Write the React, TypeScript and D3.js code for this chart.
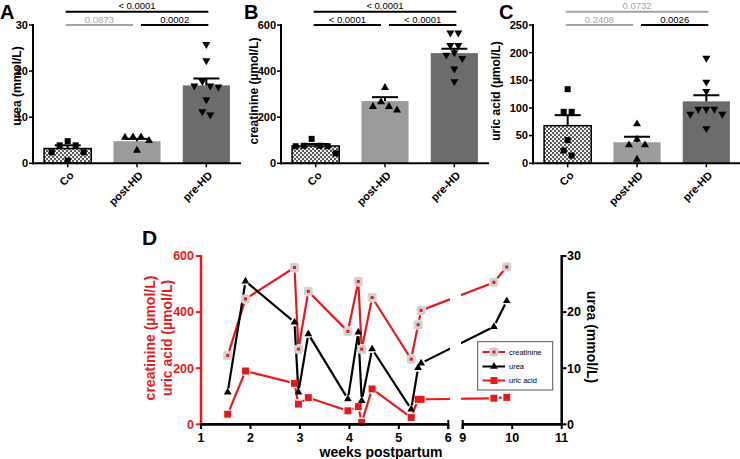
import React from 'react';
import * as d3 from 'd3';

const FONT = "'Liberation Sans', Arial, Helvetica, sans-serif";
const RED = '#e6191e';
const SIG_GRAY = '#a3a3a3';

// ---------- Panels A–C data ----------
const groups = ['Co', 'post-HD', 'pre-HD'];

const ureaMeans = [3.2, 4.8, 16.9];
const ureaSem = [0.7, 0.5, 1.5];
const ureaCo = [3.9, 4.8, 3.9, 2.4, 2.4, 0.6];
const ureaPost = [5.6, 5.7, 5.7, 4.9, 2.8];
const ureaPre = [25.8, 22.3, 17.8, 16.8, 16.8, 16.6, 13.8, 11.2, 10.5];
const ureaTicks = [0, 10, 20, 30];

const creaMeans = [75, 270, 478];
const creaSem = [9, 17, 19];
const creaCo = [76, 76, 106, 74, 74, 43];
const creaPost = [328, 231, 246, 246, 266];
const creaPre = [566, 566, 512, 512, 480, 470, 455, 410, 355];
const creaTicks = [0, 200, 400, 600];

const uricMeans = [68, 38, 112];
const uricSem = [19, 10, 11];
const uricCo = [134, 93, 93, 42, 23, 14];
const uricPost = [71, 43, 33, 33, 7];
const uricPre = [190, 147, 130, 98, 98, 98, 89, 89, 63];
const uricTicks = [0, 50, 100, 150, 200, 250];

const sigA = [
  { from: 0, to: 2, row: 0, label: '< 0.0001', gray: false },
  { from: 0, to: 1, row: 1, label: '0.0873', gray: true },
  { from: 1, to: 2, row: 1, label: '0.0002', gray: false },
];
const sigB = [
  { from: 0, to: 2, row: 0, label: '< 0.0001', gray: false },
  { from: 0, to: 1, row: 1, label: '< 0.0001', gray: false },
  { from: 1, to: 2, row: 1, label: '< 0.0001', gray: false },
];
const sigC = [
  { from: 0, to: 2, row: 0, label: '0.0732', gray: true },
  { from: 0, to: 1, row: 1, label: '0.2408', gray: true },
  { from: 1, to: 2, row: 1, label: '0.0026', gray: false },
];

// ---------- Panel D data ----------
const weeks = [1.54, 1.9, 2.89, 2.97, 3.17, 3.97, 4.18, 4.25, 4.46, 5.25, 5.39, 5.45, 9.63, 9.89];
const creatinineD = [245, 447, 559, 268, 474, 331, 509, 268, 452, 232, 355, 406, 506, 561];
const ureaD = [5.7, 25.5, 18.2, 5.7, 16.1, 4.5, 16.4, 4.2, 13.4, 2.7, 10.1, 10.9, 17.4, 22.0];
const uricD = [36, 190, 146, 72, 95, 48, 63, 7, 126, 24, 89, 89, 93, 96];
const leftTicksD = [0, 200, 400, 600];
const rightTicksD = [0, 10, 20, 30];
const xTicks1 = [1, 2, 3, 4, 5, 6];
const xTicks2 = [9, 10, 11];

const barFills = ['url(#checker)', '#9b9b9b', '#6c6c6c'];

function swarm(vals: number[], y: (v: number) => number, d: number) {
  const idx = vals.map((v, i) => i).sort((a, b) => vals[b] - vals[a]);
  const out: number[] = new Array(vals.length).fill(0);
  let cluster: number[] = [];
  const flush = () => {
    const n = cluster.length;
    const slots: number[] = [];
    if (n % 2 === 1) {
      slots.push(0);
      for (let k = 1; slots.length < n; k++) { slots.push(-k * d); if (slots.length < n) slots.push(k * d); }
    } else {
      for (let k = 0; slots.length < n; k++) { slots.push(-(k + 0.5) * d); slots.push((k + 0.5) * d); }
    }
    cluster.forEach((i, j) => (out[i] = slots[j]));
    cluster = [];
  };
  let lastY = -1e9;
  for (const i of idx) {
    const py = y(vals[i]);
    if (cluster.length && Math.abs(py - lastY) > d * 0.9) flush();
    cluster.push(i);
    lastY = py;
  }
  flush();
  return out;
}

type Sig = { from: number; to: number; row: number; label: string; gray: boolean };

function BarPanel(props: {
  x0: number; yMax: number; ticks: number[]; letter: string; letterX: number;
  yLabel: string; yLabelX: number; yLabelY: number; means: number[]; sems: number[]; pts: number[][]; sig: Sig[];
}) {
  const { x0, yMax, ticks, letter, letterX, yLabel, yLabelX, yLabelY, means, sems, pts, sig } = props;
  const width = 208;
  const x = d3.scaleBand<string>().domain(groups).range([x0, x0 + width]).paddingInner(0.32).paddingOuter(0.16);
  const y = d3.scaleLinear().domain([0, yMax]).range([163.3, 25]);
  const bw = x.bandwidth();
  const cx = (i: number) => (x(groups[i]) as number) + bw / 2;
  const sq = d3.symbol().type(d3.symbolSquare).size(36)() as string;
  const tri = d3.symbol().type(d3.symbolTriangle).size(28)() as string;
  const rowY = [11.7, 25];
  return (
    <g>
      <text x={letterX} y={18.5} fontSize={20} fontWeight="bold">{letter}</text>
      <text transform={`translate(${yLabelX},${yLabelY}) rotate(-90)`} textAnchor="middle" dy="0.35em" fontSize={12} fontWeight="bold">{yLabel}</text>
      {sig.map((s, i) => {
        const xa = cx(s.from) + (s.from === 1 ? 4 : -2);
        const xb = cx(s.to) + (s.to === 1 ? -4 : 2);
        const yy = rowY[s.row];
        const col = s.gray ? SIG_GRAY : '#000';
        return (
          <g key={i}>
            <line x1={xa} x2={xb} y1={yy} y2={yy} stroke={col} strokeWidth={2} />
            <text x={(xa + xb) / 2} y={yy - 2.5} textAnchor="middle" fontSize={9.5} fill={col}>{s.label}</text>
          </g>
        );
      })}
      {groups.map((g, i) => (
        <rect key={g} x={x(g)} y={y(means[i])} width={bw} height={y(0) - y(means[i])}
          fill={barFills[i]} stroke={i === 0 ? '#000' : 'none'} strokeWidth={1.5} />
      ))}
      {groups.map((g, i) => (
        <g key={'e' + g} stroke="#000" strokeWidth={2}>
          <line x1={cx(i)} x2={cx(i)} y1={y(means[i])} y2={y(means[i] + sems[i])} />
          <line x1={cx(i) - 13} x2={cx(i) + 13} y1={y(means[i] + sems[i])} y2={y(means[i] + sems[i])} />
        </g>
      ))}
      {pts.map((arr, gi) => {
        const offs = swarm(arr, y, 8);
        return arr.map((v, j) => (
          <path key={gi + '-' + j} d={gi === 0 ? sq : tri}
            transform={`translate(${cx(gi) + offs[j]},${y(v)})${gi === 2 ? ' rotate(180)' : ''}`} fill="#000" />
        ));
      })}
      {/* y axis */}
      <line x1={x0} x2={x0} y1={y(yMax) - 1} y2={y(0) + 1} stroke="#000" strokeWidth={2} />
      {ticks.map((t) => (
        <g key={t}>
          <line x1={x0 - 4} x2={x0} y1={y(t)} y2={y(t)} stroke="#000" strokeWidth={1.5} />
          <text x={x0 - 5} y={y(t)} dy="0.35em" textAnchor="end" fontSize={11} fontWeight="bold">{t}</text>
        </g>
      ))}
      {/* x axis */}
      <line x1={x0 - 1} x2={x0 + width} y1={y(0)} y2={y(0)} stroke="#000" strokeWidth={2} />
      {groups.map((g, i) => (
        <g key={'t' + g}>
          <line x1={cx(i)} x2={cx(i)} y1={y(0)} y2={y(0) + 4} stroke="#000" strokeWidth={1.5} />
          <text transform={`translate(${cx(i) + 4},${y(0) + 10}) rotate(-45)`} textAnchor="end" dy="0.35em" fontSize={11} fontWeight="bold">{g}</text>
        </g>
      ))}
    </g>
  );
}

function PanelD() {
  const x1 = d3.scaleLinear().domain([1, 6]).range([201, 448.3]);
  const x2 = d3.scaleLinear().domain([9, 11]).range([462.7, 561.7]);
  const xD = (w: number) => (w <= 7 ? x1(w) : x2(w));
  const yL = d3.scaleLinear().domain([0, 600]).range([424.3, 256]);
  const yR = d3.scaleLinear().domain([0, 30]).range([424.3, 256]);

  const segs = (vals: number[], ys: (v: number) => number, gap: number) => {
    const p = weeks.map((w, i) => [xD(w), ys(vals[i])]);
    const out: number[][] = [];
    for (let i = 0; i < p.length - 1; i++) {
      const [ax, ay] = p[i];
      const [bx, by] = p[i + 1];
      const L = Math.hypot(bx - ax, by - ay);
      if (L <= 2 * gap) continue;
      const ux = (bx - ax) / L, uy = (by - ay) / L;
      out.push([ax + ux * gap, ay + uy * gap, bx - ux * gap, by - uy * gap]);
    }
    return out;
  };

  const tri = d3.symbol().type(d3.symbolTriangle).size(26)() as string;

  const CreaMarker = ({ x, y }: { x: number; y: number }) => (
    <g>
      <rect x={x - 4.5} y={y - 4.5} width={9} height={9} rx={2} fill="#d2d2d2" />
      <rect x={x - 1.5} y={y - 1.5} width={3} height={3} fill={RED} />
    </g>
  );
  const UricMarker = ({ x, y }: { x: number; y: number }) => (
    <rect x={x - 3.5} y={y - 3.5} width={7} height={7} fill={RED} />
  );
  const UreaMarker = ({ x, y }: { x: number; y: number }) => (
    <path d={tri} transform={`translate(${x},${y})`} fill="#000" />
  );

  return (
    <g>
      <text x={142} y={245} fontSize={21} fontWeight="bold">D</text>
      {/* lines */}
      <g clipPath="url(#dclip)" strokeWidth={2.2} strokeLinecap="butt">
        {segs(creatinineD, yL, 5).map((s, i) => (
          <line key={'c' + i} x1={s[0]} y1={s[1]} x2={s[2]} y2={s[3]} stroke={RED} />
        ))}
        {segs(uricD, yL, 5).map((s, i) => (
          <line key={'u' + i} x1={s[0]} y1={s[1]} x2={s[2]} y2={s[3]} stroke={RED} />
        ))}
        {segs(ureaD, yR, 4).map((s, i) => (
          <line key={'r' + i} x1={s[0]} y1={s[1]} x2={s[2]} y2={s[3]} stroke="#000" />
        ))}
      </g>
      {weeks.map((w, i) => <CreaMarker key={'cm' + i} x={xD(w)} y={yL(creatinineD[i])} />)}
      {weeks.map((w, i) => <UricMarker key={'um' + i} x={xD(w)} y={yL(uricD[i])} />)}
      {weeks.map((w, i) => <UreaMarker key={'rm' + i} x={xD(w)} y={yR(ureaD[i])} />)}

      {/* left axis */}
      <line x1={201} x2={201} y1={255} y2={425} stroke={RED} strokeWidth={2.5} />
      {leftTicksD.map((t) => (
        <g key={'l' + t}>
          <line x1={196} x2={201} y1={yL(t)} y2={yL(t)} stroke={RED} strokeWidth={2} />
          <text x={194} y={yL(t)} dy="0.35em" textAnchor="end" fontSize={12.5} fontWeight="bold" fill={RED}>{t}</text>
        </g>
      ))}
      <text transform="translate(150,338) rotate(-90)" textAnchor="middle" dy="0.35em" fontSize={14} fontWeight="bold" fill={RED}>creatinine (µmol/L)</text>
      <text transform="translate(167,338) rotate(-90)" textAnchor="middle" dy="0.35em" fontSize={14} fontWeight="bold" fill={RED}>uric acid (µmol/L)</text>

      {/* right axis */}
      <line x1={561.7} x2={561.7} y1={255} y2={425.5} stroke="#000" strokeWidth={2.5} />
      {rightTicksD.map((t) => (
        <g key={'r' + t}>
          <line x1={561.7} x2={566.5} y1={yR(t)} y2={yR(t)} stroke="#000" strokeWidth={2} />
          <text x={567} y={yR(t)} dy="0.35em" textAnchor="start" fontSize={12.5} fontWeight="bold">{t}</text>
        </g>
      ))}
      <text transform="translate(592,337) rotate(90)" textAnchor="middle" dy="0.35em" fontSize={14} fontWeight="bold">urea (mmol/L)</text>

      {/* bottom axis */}
      <line x1={200} x2={448.3} y1={424.3} y2={424.3} stroke="#000" strokeWidth={2.8} />
      <line x1={462.7} x2={563} y1={424.3} y2={424.3} stroke="#000" strokeWidth={2.8} />
      <line x1={448.3} x2={448.3} y1={420} y2={429} stroke="#000" strokeWidth={2} />
      <line x1={462.7} x2={462.7} y1={420} y2={429} stroke="#000" strokeWidth={2} />
      {xTicks1.map((t) => (
        <g key={'x1' + t}>
          <line x1={x1(t)} x2={x1(t)} y1={424.3} y2={429} stroke="#000" strokeWidth={2} />
          <text x={x1(t)} y={441.5} textAnchor="middle" fontSize={12.5} fontWeight="bold">{t}</text>
        </g>
      ))}
      {xTicks2.map((t) => (
        <g key={'x2' + t}>
          <line x1={x2(t)} x2={x2(t)} y1={424.3} y2={429} stroke="#000" strokeWidth={2} />
          <text x={x2(t)} y={441.5} textAnchor="middle" fontSize={12.5} fontWeight="bold">{t}</text>
        </g>
      ))}
      <text x={381} y={457} textAnchor="middle" fontSize={14} fontWeight="bold">weeks postpartum</text>

      {/* legend */}
      <rect x={477.7} y={341.7} width={75} height={48.3} fill="#fff" stroke="#555" strokeWidth={1} />
      <g strokeWidth={2}>
        <line x1={482.5} x2={490} y1={352} y2={352} stroke={RED} />
        <line x1={498} x2={505} y1={352} y2={352} stroke={RED} />
        <CreaMarker x={494} y={352} />
        <line x1={482.5} x2={505} y1={366.5} y2={366.5} stroke="#000" />
        <UreaMarker x={494} y={366.5} />
        <line x1={482.5} x2={505} y1={380.5} y2={380.5} stroke={RED} />
        <UricMarker x={494} y={380.5} />
      </g>
      <text x={509} y={352} dy="0.35em" fontSize={7.5}>creatinine</text>
      <text x={509} y={366.5} dy="0.35em" fontSize={7.5}>urea</text>
      <text x={509} y={380.5} dy="0.35em" fontSize={7.5}>uric acid</text>
    </g>
  );
}

export default function App() {
  return (
    <svg width={740} height={459} style={{ position: 'absolute', left: 0, top: 0, background: '#fff' }} fontFamily={FONT}>
      <defs>
        <pattern id="checker" width="4" height="4" patternUnits="userSpaceOnUse">
          <rect width="4" height="4" fill="#f0f0f0" />
          <rect width="2" height="2" fill="#5a5a5a" />
          <rect x="2" y="2" width="2" height="2" fill="#5a5a5a" />
        </pattern>
        <clipPath id="dclip">
          <rect x={195} y={240} width={255} height={200} />
          <rect x={461} y={240} width={110} height={200} />
        </clipPath>
      </defs>
      <BarPanel x0={33} yMax={30} ticks={ureaTicks} letter="A" letterX={0} yLabel="urea (mmol/L)" yLabelX={17} yLabelY={86}
        means={ureaMeans} sems={ureaSem} pts={[ureaCo, ureaPost, ureaPre]} sig={sigA} />
      <BarPanel x0={281} yMax={600} ticks={creaTicks} letter="B" letterX={244} yLabel="creatinine (µmol/L)" yLabelX={254} yLabelY={91}
        means={creaMeans} sems={creaSem} pts={[creaCo, creaPost, creaPre]} sig={sigB} />
      <BarPanel x0={533} yMax={250} ticks={uricTicks} letter="C" letterX={499} yLabel="uric acid (µmol/L)" yLabelX={496} yLabelY={91}
        means={uricMeans} sems={uricSem} pts={[uricCo, uricPost, uricPre]} sig={sigC} />
      <PanelD />
    </svg>
  );
}
